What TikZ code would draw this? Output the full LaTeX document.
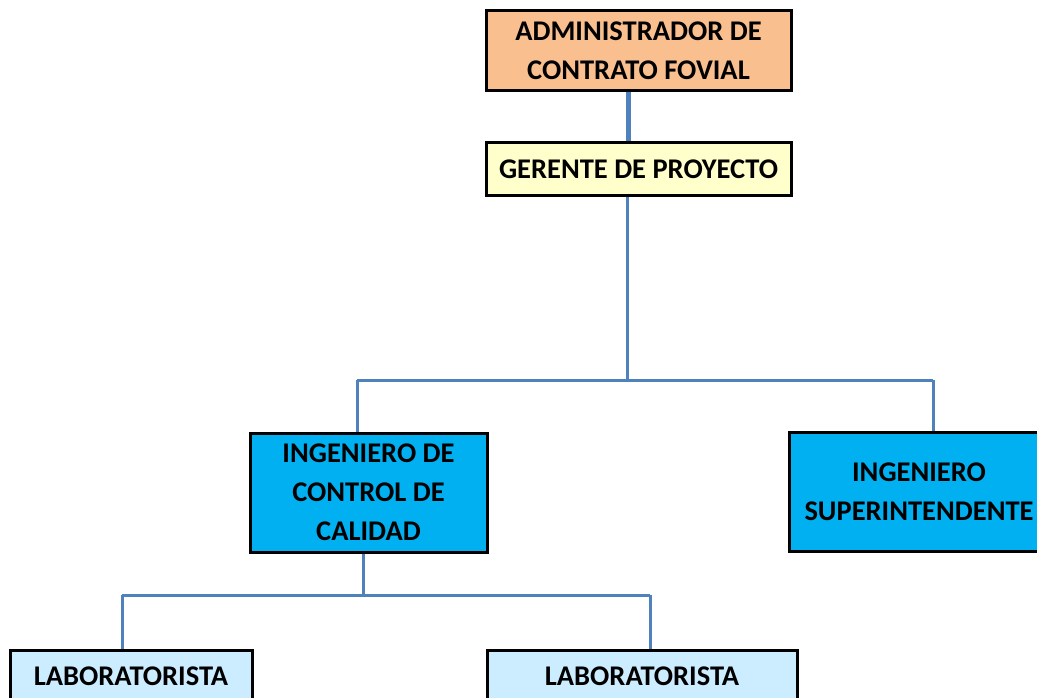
\documentclass[tikz,border=0pt]{standalone}
\usepackage{fontspec}
\setmainfont{Carlito}
\definecolor{admfill}{HTML}{F9BF8F}
\definecolor{gerfill}{HTML}{FFFFCC}
\definecolor{ingfill}{HTML}{00B0F0}
\definecolor{labfill}{HTML}{CCECFF}
\definecolor{lineblue}{HTML}{4F81BD}
\begin{document}
\begin{tikzpicture}[x=1pt,y=-1pt,font=\fontsize{28.5}{39}\selectfont\bfseries]
       \tikzstyle{boxnode}=[draw=black, line width=3pt, align=center, inner sep=0pt]
       \tikzstyle{edge}=[draw=lineblue, line width=3pt]
       \useasboundingbox (0,0) rectangle (1037,698);
       \node[boxnode, fill=admfill, minimum width=305, minimum height=80] (adm) at (638.5,51) {ADMINISTRADOR DE\\CONTRATO FOVIAL};
       \node[boxnode, fill=gerfill, minimum width=305, minimum height=53] (ger) at (638.5,169.5) {GERENTE DE PROYECTO};
       \node[boxnode, fill=ingfill, minimum width=237, minimum height=119] (icc) at (368.5,492.5) {INGENIERO DE\\CONTROL DE\\CALIDAD};
       \node[boxnode, fill=ingfill, minimum width=260, minimum height=119] (sup) at (919,491.5) {INGENIERO\\SUPERINTENDENTE\hspace{4pt}};
       \node[boxnode, fill=labfill, minimum width=242, minimum height=52] (lab1) at (131,676) {LABORATORISTA};
       \node[boxnode, fill=labfill, minimum width=310, minimum height=52] (lab2) at (642,676) {LABORATORISTA};
       \coordinate (mid) at (627,380);
       \coordinate (barL) at (357,380);
       \coordinate (barR) at (933,380);
       \coordinate (lowM) at (363,595);
       \coordinate (lowL) at (122,595);
       \coordinate (lowR) at (650,595);
       \draw[edge, line width=5pt] ([xshift=-10.5]adm.south) -- ([xshift=-10.5]ger.north);
       \draw[edge] ([xshift=-11.5]ger.south) -- (mid);
       \draw[edge] (barL) -- (barR);
       \draw[edge] (barL) -- (barL |- icc.north);
       \draw[edge] (barR) -- (barR |- sup.north);
       \draw[edge] (icc.south -| lowM) -- (lowM);
       \draw[edge] (lowL) -- (lowR);
       \draw[edge] (lowL) -- (lowL |- lab1.north);
       \draw[edge] (lowR) -- (lowR |- lab2.north);
\end{tikzpicture}
\end{document}
